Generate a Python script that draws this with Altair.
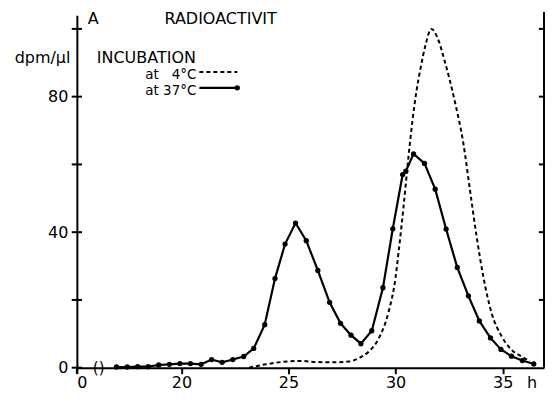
import altair as alt
import pandas as pd

# ---- data (hours, dpm/µl) ----
h37 = [16.97, 17.47, 17.96, 18.45, 18.94, 19.44, 19.93, 20.42, 20.92, 21.41, 21.90, 22.40,
       22.91, 23.38, 23.89, 24.37, 24.84, 25.33, 25.83, 26.37, 26.92, 27.43, 27.92, 28.38,
       28.89, 29.41, 29.87, 30.33, 30.48, 30.84, 31.35, 31.85, 32.36, 32.88, 33.40, 33.91,
       34.43, 34.92, 35.41, 35.92, 36.45]
v37 = [0.2, 0.2, 0.3, 0.3, 0.8, 1.0, 1.2, 1.2, 1.0, 2.4, 1.6, 2.4,
       3.3, 5.7, 12.7, 26.3, 36.5, 42.7, 37.5, 28.7, 19.3, 13.1, 9.6, 7.1,
       10.9, 23.6, 41.0, 57.0, 58.0, 63.1, 60.3, 52.7, 40.9, 29.6, 21.2, 13.8,
       8.8, 5.4, 3.4, 2.1, 1.1]

h4 = [23.16, 23.94, 24.71, 25.49, 26.27, 27.04, 27.81, 28.28, 28.74, 29.21, 29.67, 29.99,
      30.14, 30.37, 30.60, 30.79, 30.98, 31.16, 31.40, 31.67, 31.93, 32.31, 32.78, 33.16,
      33.47, 33.78, 34.09, 34.48, 34.95, 35.41, 35.88, 36.27]
v4 = [0.0, 1.0, 1.7, 2.0, 1.7, 1.6, 1.8, 2.8, 4.7, 8.6, 16.4, 26.2,
      34.1, 47.4, 62.1, 73.0, 81.8, 88.2, 95.3, 100.0, 97.8, 90.1, 78.2, 66.4,
      52.6, 38.9, 27.1, 16.2, 9.3, 5.3, 3.3, 1.9]

x_ticks = [15.12, 20, 25, 30, 35]
y_ticks = [0, 20, 40, 60, 80, 100]
y_labels = [0, 40, 80]

XMIN, XMAX = 15.12, 36.93
YMIN, YMAX = 0, 104
TK = 0.24  # half tick length in hours

FONT = "DejaVu Sans"

xs = alt.Scale(domain=[XMIN, XMAX], nice=False, zero=False)
ys = alt.Scale(domain=[YMIN, YMAX], nice=False, zero=False)

d37 = pd.DataFrame({"h": h37, "v": v37})
d4 = pd.DataFrame({"h": h4, "v": v4})

base_x = alt.X("h:Q", scale=xs, title=None,
               axis=alt.Axis(values=x_ticks, labelExpr="datum.value < 16 ? '0' : datum.label",
                             tickSize=6, tickWidth=2, tickColor="black", domainColor="black",
                             domainWidth=2, labelFontSize=16, labelFont=FONT, labelColor="black",
                             labelPadding=1, grid=False))
base_y = alt.Y("v:Q", scale=ys, title=None,
               axis=alt.Axis(values=y_labels, ticks=False, domainColor="black", domainWidth=2,
                             labelFontSize=16, labelFont=FONT, labelColor="black",
                             labelPadding=9, grid=False))

X = alt.X("h:Q", scale=xs)
Y = alt.Y("v:Q", scale=ys)

line37 = alt.Chart(d37).mark_line(color="black", strokeWidth=2.2).encode(x=base_x, y=base_y)
pts37 = alt.Chart(d37).mark_circle(color="black", size=28, opacity=1).encode(x=X, y=Y)
line4 = alt.Chart(d4).mark_line(color="black", strokeWidth=2, strokeDash=[4, 3],
                                interpolate="monotone").encode(x=X, y=Y)

# crossing ticks on left and right axes
lt_df = pd.DataFrame({"a": [XMIN - TK] * len(y_ticks), "b": [XMIN + TK] * len(y_ticks), "v": y_ticks})
lt = alt.Chart(lt_df).mark_rule(color="black", strokeWidth=2).encode(
    x=alt.X("a:Q", scale=xs), x2="b:Q", y=Y)
rt_df = pd.DataFrame({"a": [XMAX - TK] * 5, "b": [XMAX + TK] * 5, "v": y_ticks[1:]})
rt = alt.Chart(rt_df).mark_rule(color="black", strokeWidth=2).encode(
    x=alt.X("a:Q", scale=xs), x2="b:Q", y=Y)
raxis = alt.Chart(pd.DataFrame({"a": [0]})).mark_rule(color="black", strokeWidth=2).encode(
    x=alt.datum(XMAX, scale=xs), y=alt.datum(YMIN, scale=ys), y2=alt.datum(YMAX + 1))
lext = alt.Chart(pd.DataFrame({"a": [0]})).mark_rule(color="black", strokeWidth=2).encode(
    x=alt.datum(XMIN, scale=xs), y=alt.datum(-1.8, scale=ys), y2=alt.datum(0))

# legend samples
leg_dash = pd.DataFrame({"h": [20.84, 22.61], "v": [87.3, 87.3]})
leg_solid = pd.DataFrame({"h": [20.84, 22.61], "v": [82.6, 82.6]})
ld = alt.Chart(leg_dash).mark_line(color="black", strokeWidth=2, strokeDash=[4, 3]).encode(x=X, y=Y)
ls = alt.Chart(leg_solid).mark_line(color="black", strokeWidth=2.2).encode(x=X, y=Y)
lsp = alt.Chart(leg_solid.iloc[[1]]).mark_circle(color="black", size=28, opacity=1).encode(x=X, y=Y)

# texts
txt_left = pd.DataFrame({
    "h": [15.63, 19.21, 16.05, 36.14],
    "v": [102.9, 102.9, 91.4, -4.6],
    "t": ["A", "RADIOACTIVIT", "INCUBATION", "h"],
})
tl = alt.Chart(txt_left).mark_text(align="left", baseline="middle", font=FONT, fontSize=16,
                                   color="black").encode(x=X, y=Y, text="t:N")
dpm = alt.Chart(pd.DataFrame({"h": [14.82], "v": [91.4], "t": ["dpm/µl"]})).mark_text(
    align="right", baseline="middle", font=FONT, fontSize=16, color="black").encode(x=X, y=Y, text="t:N")
leg_text = pd.DataFrame({"h": [20.70], "v": [86.3], "t": ["at \u20074°C\nat 37°C"]})
tr = alt.Chart(leg_text).mark_text(align="right", baseline="middle", font=FONT, fontSize=13.5,
                                   lineBreak="\n", lineHeight=16, color="black").encode(
    x=X, y=Y, text="t:N")
brk = alt.Chart(pd.DataFrame({"h": [16.14], "v": [0], "t": ["()"]})).mark_text(
    align="center", baseline="middle", font=FONT, fontSize=15, color="black").encode(x=X, y=Y, text="t:N")

chart = alt.layer(line4, line37, pts37, lt, rt, raxis, lext, ld, ls, lsp, tl, dpm, tr, brk).properties(
    width=468, height=353,
    autosize=alt.AutoSizeParams(type="none"),
    padding={"left": 69, "top": 7, "right": 1, "bottom": 26},
    background="white",
).configure_view(strokeWidth=0)

chart.save("out.html", embed_options={"renderer": "svg", "actions": False})
